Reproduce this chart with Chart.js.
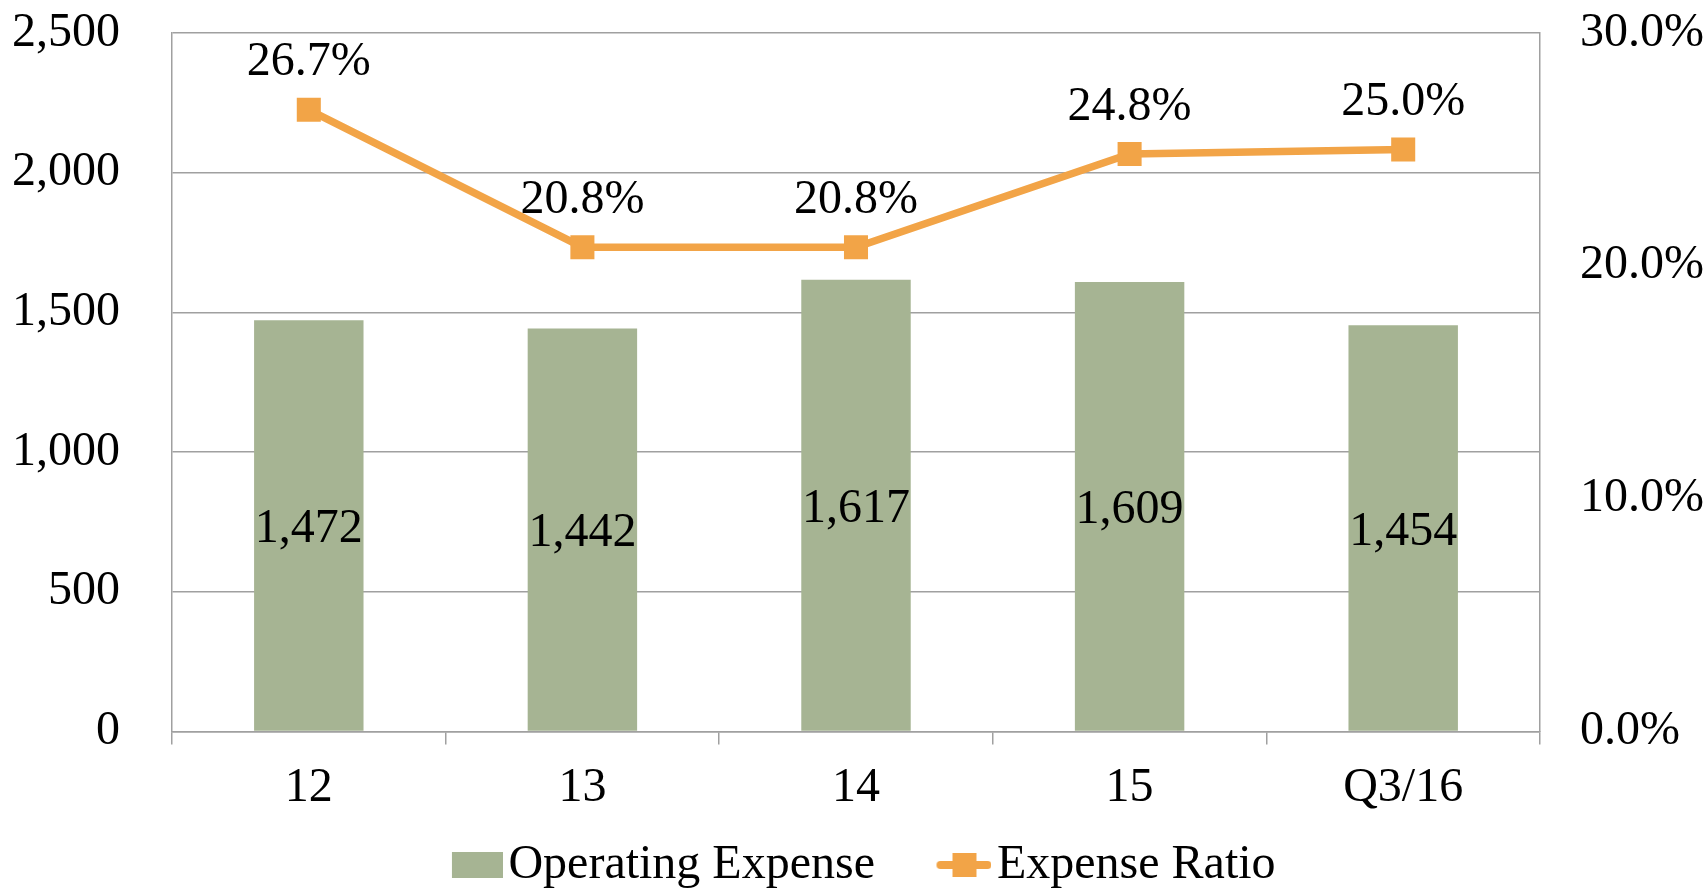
<!DOCTYPE html>
<html><head><meta charset="utf-8">
<script src="https://cdn.jsdelivr.net/npm/chart.js@4/dist/chart.umd.min.js"></script>
<style>html,body{margin:0;padding:0;background:#fff;overflow:hidden}#wrap{width:1706px;height:890px;position:relative}</style>
</head><body><div id="wrap"><canvas id="c"></canvas></div>
<script>
const categories = ['12', '13', '14', '15', 'Q3/16'];
const operatingExpense = [1472, 1442, 1617, 1609, 1454];
const expenseRatio = [26.7, 20.8, 20.8, 24.8, 25.0];
const leftTicks = [0, 500, 1000, 1500, 2000, 2500];
const rightTicks = [0, 10, 20, 30];
const seriesNames = ['Operating Expense', 'Expense Ratio'];

const FONT = '"Liberation Serif", "Times New Roman", serif';
const FS = 48;
const GREEN = '#A6B493';
const ORANGE = '#F2A447';
const GRID = '#A0A0A0';

// legend icons: transparent space on the left shifts the visible mark toward its text
function makeBarIcon() {
  const c = document.createElement('canvas'); c.width = 105; c.height = 26;
  const x = c.getContext('2d'); x.fillStyle = GREEN; x.fillRect(54, 0, 51, 26); return c;
}
function makeLineIcon() {
  const c = document.createElement('canvas'); c.width = 105; c.height = 26;
  const x = c.getContext('2d');
  x.strokeStyle = ORANGE; x.lineWidth = 8; x.lineCap = 'round';
  x.beginPath(); x.moveTo(54, 13); x.lineTo(101, 13); x.stroke();
  x.fillStyle = ORANGE; x.fillRect(66, 1, 24, 24); return c;
}

const valueLabels = {
  id: 'valueLabels',
  afterDatasetsDraw(chart) {
    const ctx = chart.ctx;
    ctx.save();
    ctx.font = FS + 'px ' + FONT;
    ctx.fillStyle = '#000';
    ctx.textAlign = 'center';
    ctx.textBaseline = 'middle';
    chart.getDatasetMeta(0).data.forEach((el, i) => {
      ctx.fillText(operatingExpense[i].toLocaleString('en-US'), el.x, (el.y + el.base) / 2 + 4);
    });
    chart.getDatasetMeta(1).data.forEach((el, i) => {
      ctx.fillText(expenseRatio[i].toFixed(1) + '%', el.x, el.y - 47);
    });
    ctx.restore();
  }
};

const font = { family: FONT, size: FS };

new Chart(document.getElementById('c'), {
  type: 'bar',
  data: {
    labels: categories,
    datasets: [
      { type: 'bar', label: seriesNames[0], data: operatingExpense, backgroundColor: GREEN,
        yAxisID: 'y', barPercentage: 0.4, categoryPercentage: 1, order: 1 },
      { type: 'line', label: seriesNames[1], data: expenseRatio, borderColor: ORANGE, backgroundColor: ORANGE,
        borderWidth: 7.5, pointStyle: 'rect', pointRadius: 17, pointHoverRadius: 17, pointBorderWidth: 0,
        yAxisID: 'y1', tension: 0, order: 0 }
    ]
  },
  options: {
    responsive: true, maintainAspectRatio: false, animation: false,
    layout: { padding: { top: 33, left: -14, right: 0, bottom: 0 } },
    plugins: {
      tooltip: { enabled: false },
      legend: {
        position: 'bottom',
        maxHeight: 79,
        labels: {
          usePointStyle: true, pointStyleWidth: 68, boxWidth: 68, padding: 30, font, color: '#000',
          generateLabels: () => [
            { text: seriesNames[0], pointStyle: makeBarIcon(), datasetIndex: 0, fillStyle: GREEN, strokeStyle: GREEN, lineWidth: 0, fontColor: '#000' },
            { text: seriesNames[1], pointStyle: makeLineIcon(), datasetIndex: 1, fillStyle: ORANGE, strokeStyle: ORANGE, lineWidth: 0, fontColor: '#000' }
          ]
        }
      }
    },
    scales: {
      x: {
        offset: true,
        grid: { offset: true, drawOnChartArea: false, drawTicks: true, tickLength: 13, color: GRID, lineWidth: 1.5 },
        border: { display: true, color: GRID, width: 1.5 },
        ticks: { font, color: '#000', padding: 15 },
        afterFit(s) { s.height = 79.5; }
      },
      y: {
        position: 'left', min: 0, max: 2500,
        afterBuildTicks(s) { s.ticks = leftTicks.map(v => ({ value: v })); },
        ticks: { font, color: '#000', padding: 52, callback: v => Number(v).toLocaleString('en-US') },
        grid: { color: GRID, lineWidth: 1.5, drawTicks: false },
        border: { display: true, color: GRID, width: 1.5 },
        afterFit(s) { s.width = 186; s.paddingTop = 0; s.paddingBottom = 0; }
      },
      y1: {
        position: 'right', min: 0, max: 30,
        afterBuildTicks(s) { s.ticks = rightTicks.map(v => ({ value: v })); },
        ticks: { font, color: '#000', padding: 40, callback: v => Number(v).toFixed(1) + '%' },
        grid: { drawOnChartArea: false, drawTicks: false },
        border: { display: true, color: GRID, width: 1.5 },
        afterFit(s) { s.width = 166; s.paddingTop = 0; s.paddingBottom = 0; }
      }
    }
  },
  plugins: [valueLabels]
});
</script></body></html>
